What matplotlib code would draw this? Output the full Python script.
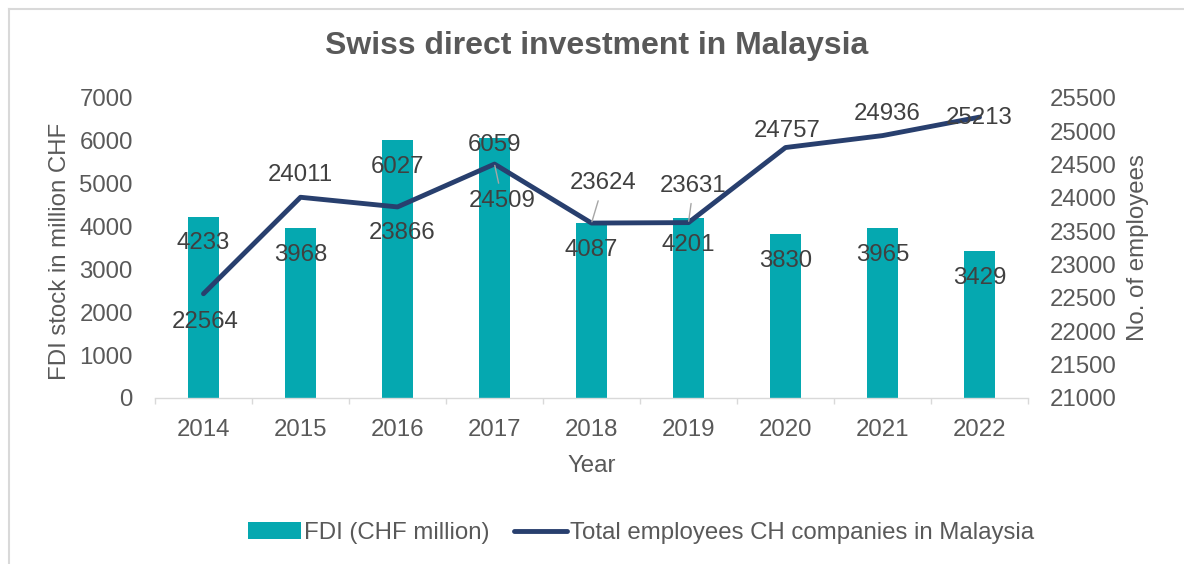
import matplotlib
matplotlib.use("Agg")
import matplotlib.pyplot as plt
from matplotlib.lines import Line2D
import numpy as np

plt.rcParams['font.family'] = ['Liberation Sans', 'DejaVu Sans']

# data
years = ['2014', '2015', '2016', '2017', '2018', '2019', '2020', '2021', '2022']
fdi = [4233, 3968, 6027, 6059, 4087, 4201, 3830, 3965, 3429]
employees = [22564, 24011, 23866, 24509, 23624, 23631, 24757, 24936, 25213]

# label offsets in pixels (dx, dy)
fdi_offsets = [(0, -26), (0, -27), (0, -27), (0, -7), (0, -27), (0, -27), (0, -27), (0, -27), (0, -27)]
emp_offsets = [(2, -28), (0, 22), (5, -26), (8, -37), (12, 40), (5, 37), (2, 17), (5, 22), (0, -1)]
leader = [False, False, False, True, True, True, False, False, False]

bar_color = '#05A8B0'
line_color = '#283F6E'
text_color = '#595959'
label_color = '#404040'
grid_color = '#D9D9D9'
fs = 17.3

W, H = 1184, 564
fig = plt.figure(figsize=(W / 100, H / 100), dpi=100)
ax = fig.add_axes([155 / W, (H - 398) / H, (1028 - 155) / W, 300 / H])
ax2 = ax.twinx()

x = np.arange(len(years))
bars = ax.bar(x, fdi, width=0.31, color=bar_color, label='FDI (CHF million)', zorder=2)
line, = ax2.plot(x, employees, color=line_color, lw=3.5, solid_capstyle='round',
                 label='Total employees CH companies in Malaysia')

ax.set_xlim(-0.5, len(years) - 0.5)
ax.set_ylim(0, 7000)
ax.set_yticks(np.arange(0, 7001, 1000))
ax2.set_ylim(21000, 25500)
ax2.set_yticks(np.arange(21000, 25501, 500))

ax.set_xticks(x)
ax.set_xticklabels(years)
ax.set_xticks(np.arange(-0.5, len(years), 1), minor=True)
ax.tick_params(axis='x', which='major', length=0, pad=15, labelsize=fs, labelcolor=text_color)
ax.tick_params(axis='x', which='minor', length=4.5, width=1, color=grid_color)
ax.tick_params(axis='y', length=0, pad=16, labelsize=fs, labelcolor=text_color)
ax2.tick_params(axis='y', length=0, pad=16, labelsize=fs, labelcolor=text_color)

for a in (ax, ax2):
    for s in ['top', 'left', 'right']:
        a.spines[s].set_visible(False)
ax2.spines['bottom'].set_visible(False)
ax.spines['bottom'].set_color(grid_color)
ax.spines['bottom'].set_linewidth(1)

# data labels
for i, v in enumerate(fdi):
    ax.annotate(str(v), (x[i], v), xytext=fdi_offsets[i], textcoords='offset pixels',
                ha='center', va='center', fontsize=fs, color=label_color, zorder=5)
for i, v in enumerate(employees):
    arrow = None
    if leader[i]:
        arrow = dict(arrowstyle='-', color='#A6A6A6', lw=1, shrinkA=3, shrinkB=1)
    ax2.annotate(str(v), (x[i], v), xytext=emp_offsets[i], textcoords='offset pixels',
                 ha='center', va='center', fontsize=fs, color=label_color,
                 arrowprops=arrow, zorder=5)

# axis titles
ax.set_xlabel('Year', fontsize=fs, color=text_color, va='center')
ax.xaxis.set_label_coords(0.5, -0.225)
ax.set_ylabel('FDI stock in million CHF', fontsize=fs, color=text_color, va='center')
ax.yaxis.set_label_coords((60 - 155) / 873, 0.49)
ax2.set_ylabel('No. of employees', fontsize=fs, color=text_color, va='center')
ax2.yaxis.set_label_coords(1 + (1138 - 1028) / 873, 0.5)

fig.text(597 / W, 1 - 46 / H, 'Swiss direct investment in Malaysia', ha='center', va='center',
         fontsize=23, fontweight='bold', color=text_color)

fig.legend([bars, line], [bars.get_label(), line.get_label()], loc='center',
           bbox_to_anchor=(641 / W, 1 - 533 / H), ncol=2, frameon=False,
           fontsize=fs, labelcolor=text_color, handlelength=2.2, handletextpad=0.15,
           columnspacing=1.0)

# chart border (top and left only visible)
fig.add_artist(Line2D([8.5 / W, 1], [1 - 8.5 / H, 1 - 8.5 / H], transform=fig.transFigure,
                      color=grid_color, lw=1.5))
fig.add_artist(Line2D([8.5 / W, 8.5 / W], [0, 1 - 8.5 / H], transform=fig.transFigure,
                      color=grid_color, lw=1.5))

fig.savefig('out.png', dpi=100)
